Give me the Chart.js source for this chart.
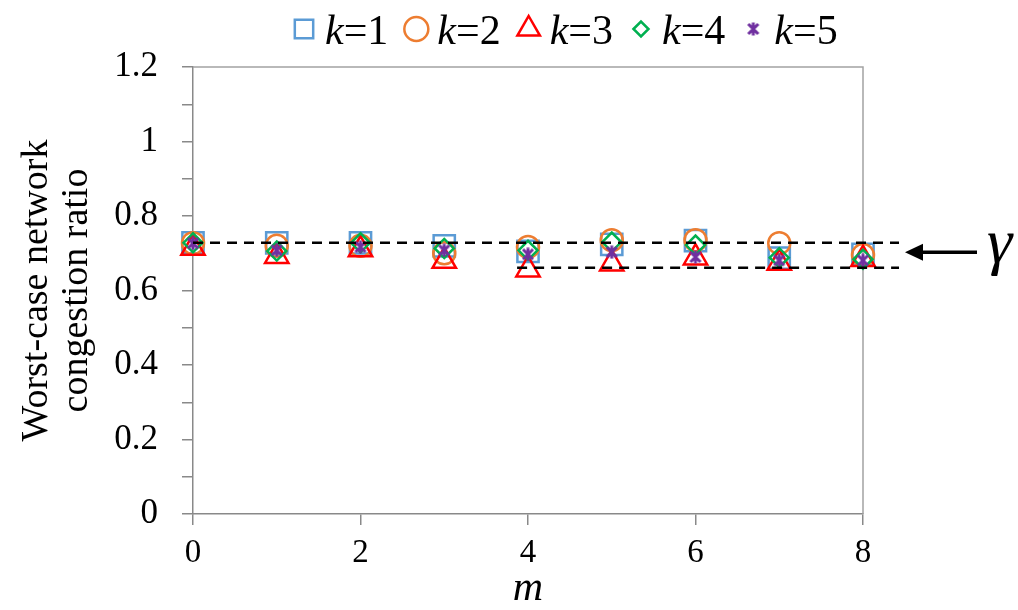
<!DOCTYPE html>
<html>
<head>
<meta charset="utf-8">
<script src="https://cdn.jsdelivr.net/npm/chart.js@4"></script>
<style>
    html, body { margin: 0; padding: 0; background: #fff; }
</style>
</head>
<body>
<canvas id="congestionChart" width="1018" height="610"></canvas>
<script>
// --- Données ---
const mValues = [0, 1, 2, 3, 4, 5, 6, 7, 8];
const k1Values = [0.728, 0.728, 0.728, 0.720, 0.705, 0.724, 0.734, 0.687, 0.697];
const k2Values = [0.727, 0.720, 0.720, 0.700, 0.717, 0.735, 0.735, 0.727, 0.695];
const k3Values = [0.714, 0.692, 0.710, 0.679, 0.656, 0.672, 0.688, 0.674, 0.684];
const k4Values = [0.728, 0.706, 0.728, 0.713, 0.708, 0.730, 0.722, 0.688, 0.684];
const k5Values = [0.727, 0.708, 0.717, 0.708, 0.697, 0.703, 0.690, 0.681, 0.681];
const seriesNames = ['k=1', 'k=2', 'k=3', 'k=4', 'k=5'];

// lignes pointillées (gamma)
const gammaUpper = 0.728;
const gammaLower = 0.661;
const gammaUpperRange = [0, 8.43];
const gammaLowerRange = [3.87, 8.43];

const yTickLabels = ['0', '0.2', '0.4', '0.6', '0.8', '1', '1.2'];
const xTickLabels = ['0', '2', '4', '6', '8'];

const serif = "'Liberation Serif'";

// --- Marqueur étoile façon Excel (x + trait vertical) ---
function makeStar(size, color) {
    const c = document.createElement('canvas');
    c.width = size;
    c.height = size;
    const g = c.getContext('2d');
    g.strokeStyle = color;
    g.lineWidth = 3;
    const p = 2, q = size - 2, h = size / 2;
    g.beginPath();
    g.moveTo(p, p); g.lineTo(q, q);
    g.moveTo(q, p); g.lineTo(p, q);
    g.moveTo(h, 0.5); g.lineTo(h, size - 0.5);
    g.stroke();
    return c;
}

const starMarker = makeStar(14, '#7030A0');

function points(values) {
    return mValues.map((m, i) => ({ x: m, y: values[i] }));
}

function markerSet(label, values, color, style, radius, order) {
    return {
        label: label,
        data: points(values),
        showLine: false,
        pointStyle: style,
        pointRadius: radius,
        pointHoverRadius: radius,
        pointBorderColor: color,
        pointBackgroundColor: 'rgba(0,0,0,0)',
        pointBorderWidth: 2.5,
        borderColor: color,
        clip: false,
        order: order,
        isSeries: true
    };
}

function dashedSet(range, value) {
    return {
        label: 'gamma',
        data: [{ x: range[0], y: value }, { x: range[1], y: value }],
        showLine: true,
        borderColor: '#000',
        borderWidth: 2.5,
        borderDash: [10, 7],
        pointRadius: 0,
        clip: false,
        order: 0
    };
}

// --- Cadre de la zone de tracé ---
const framePlugin = {
    id: 'plotFrame',
    beforeDatasetsDraw(chart) {
        const { ctx, chartArea: a } = chart;
        ctx.save();
        ctx.strokeStyle = '#a3a3a3';
        ctx.lineWidth = 1.5;
        ctx.beginPath();
        ctx.moveTo(a.left, a.top);
        ctx.lineTo(a.right, a.top);
        ctx.lineTo(a.right, a.bottom);
        ctx.stroke();
        ctx.restore();
    }
};

// --- Légende en haut (k en italique) ---
const legendPlugin = {
    id: 'topLegend',
    afterDraw(chart) {
        const { ctx } = chart;
        const drawPoint = Chart.helpers && Chart.helpers.drawPoint;
        const sizes = [13, 12, 13, 7.5, 7];
        let x = 290;
        const cy = 29, baseline = 44;
        ctx.save();
        chart.data.datasets.filter(d => d.isSeries).forEach((ds, i) => {
            if (drawPoint) {
                ctx.strokeStyle = ds.pointBorderColor;
                ctx.fillStyle = 'rgba(0,0,0,0)';
                ctx.lineWidth = 2.5;
                ctx.setLineDash([]);
                drawPoint(ctx, { pointStyle: ds.pointStyle, radius: sizes[i], borderWidth: 2.5, rotation: 0 }, x + 14, cy);
            }
            let tx = x + 35;
            ctx.fillStyle = '#000';
            ctx.textBaseline = 'alphabetic';
            ctx.textAlign = 'left';
            ctx.font = 'italic 42px ' + serif;
            ctx.fillText('k', tx, baseline);
            tx += ctx.measureText('k').width;
            ctx.font = '42px ' + serif;
            const rest = seriesNames[i].slice(1);
            ctx.fillText(rest, tx, baseline);
            tx += ctx.measureText(rest).width;
            x = tx + 14;
        });
        ctx.restore();
    }
};

// --- Flèche et gamma à droite ---
const gammaPlugin = {
    id: 'gammaArrow',
    afterDraw(chart) {
        const { ctx, chartArea, scales } = chart;
        const yUp = scales.y.getPixelForValue(gammaUpper);
        const yLo = scales.y.getPixelForValue(gammaLower);
        const yMid = (yUp + yLo) / 2 - 3;
        const tip = chartArea.right + 42;
        const tail = chartArea.right + 114;
        ctx.save();
        ctx.strokeStyle = '#000';
        ctx.fillStyle = '#000';
        ctx.lineWidth = 3.5;
        ctx.beginPath();
        ctx.moveTo(tail, yMid);
        ctx.lineTo(tip + 12, yMid);
        ctx.stroke();
        ctx.beginPath();
        ctx.moveTo(tip, yMid);
        ctx.lineTo(tip + 18, yMid - 8.5);
        ctx.lineTo(tip + 18, yMid + 8.5);
        ctx.closePath();
        ctx.fill();
        ctx.font = 'italic 64px ' + serif;
        ctx.textBaseline = 'alphabetic';
        ctx.fillText('γ', chartArea.right + 124, yMid + 10);
        ctx.restore();
    }
};

const axisGray = '#898989';

const ctx = document.getElementById('congestionChart').getContext('2d');
const congestionChart = new Chart(ctx, {
    type: 'scatter',
    data: {
        datasets: [
            markerSet(seriesNames[0], k1Values, '#5B9BD5', 'rect', 15, 5),
            markerSet(seriesNames[1], k2Values, '#ED7D31', 'circle', 11, 4),
            markerSet(seriesNames[2], k3Values, '#FF0000', 'triangle', 13.5, 3),
            markerSet(seriesNames[3], k4Values, '#00B050', 'rectRot', 9.5, 2),
            markerSet(seriesNames[4], k5Values, '#7030A0', starMarker, 7, 1),
            dashedSet(gammaUpperRange, gammaUpper),
            dashedSet(gammaLowerRange, gammaLower)
        ]
    },
    options: {
        responsive: false,
        animation: false,
        layout: { padding: { left: 0, top: 67, right: 155, bottom: 0 } },
        plugins: {
            legend: { display: false },
            tooltip: { enabled: false }
        },
        scales: {
            x: {
                type: 'linear',
                min: 0,
                max: 8,
                afterFit: scale => { scale.height = 96; },
                ticks: {
                    stepSize: 2,
                    autoSkip: false,
                    padding: 9,
                    color: '#000',
                    font: { family: serif, size: 33, lineHeight: 1.2 },
                    callback: value => xTickLabels[Math.round(value / 2)]
                },
                grid: { drawOnChartArea: false, drawTicks: true, tickLength: 11, color: axisGray, lineWidth: 1.5 },
                border: { display: true, color: axisGray, width: 1.5 },
                title: {
                    display: true,
                    text: 'm',
                    color: '#000',
                    font: { family: serif, size: 42, style: 'italic', lineHeight: 1 },
                    padding: { top: 0, bottom: 0 }
                }
            },
            y: {
                min: 0,
                max: 1.2,
                afterFit: scale => { scale.width = 193; },
                ticks: {
                    stepSize: 0.1,
                    autoSkip: false,
                    padding: 24,
                    color: '#000',
                    font: { family: serif, size: 35 },
                    callback: value => {
                        const i = Math.round(value * 10);
                        return i % 2 === 0 ? yTickLabels[i / 2] : '';
                    }
                },
                grid: { drawOnChartArea: false, drawTicks: true, tickLength: 11, color: axisGray, lineWidth: 1.5 },
                border: { display: true, color: axisGray, width: 1.5 },
                title: {
                    display: true,
                    text: ['Worst-case network', 'congestion ratio'],
                    color: '#000',
                    font: { family: serif, size: 38, lineHeight: 1.05 },
                    padding: { top: 17, bottom: 0 }
                }
            }
        }
    },
    plugins: [framePlugin, legendPlugin, gammaPlugin]
});
</script>
</body>
</html>
